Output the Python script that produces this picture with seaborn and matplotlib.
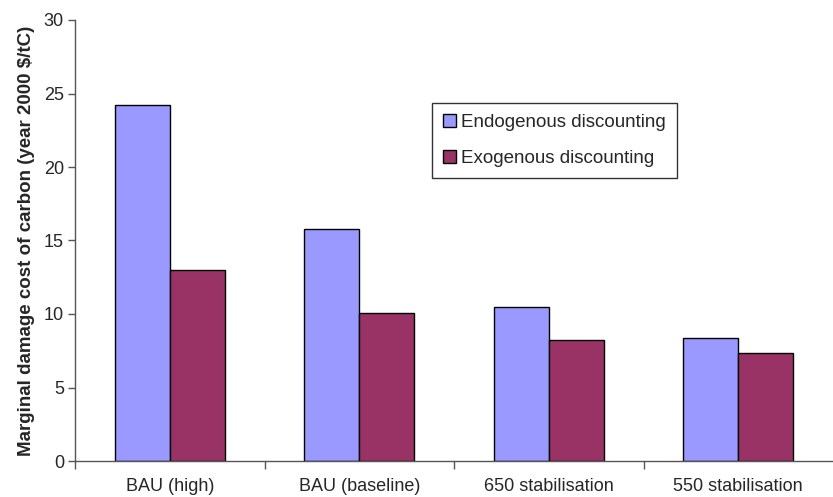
import matplotlib
matplotlib.use("Agg")
import matplotlib.pyplot as plt
import seaborn as sns
import pandas as pd
from matplotlib.ticker import FixedLocator

categories = ["BAU (high)", "BAU (baseline)", "650 stabilisation", "550 stabilisation"]
series = ["Endogenous discounting", "Exogenous discounting"]
endogenous = [24.25, 15.8, 10.45, 8.35]
exogenous = [13.0, 10.05, 8.2, 7.35]
colors = ["#9999FF", "#993366"]
yticks = [0, 5, 10, 15, 20, 25, 30]

rows = []
for c, v in zip(categories, endogenous):
    rows.append({"cat": c, "series": series[0], "value": v})
for c, v in zip(categories, exogenous):
    rows.append({"cat": c, "series": series[1], "value": v})
df = pd.DataFrame(rows)

sns.set_theme(style="white")
plt.rcParams["font.family"] = ["Liberation Sans", "DejaVu Sans"]

fig = plt.figure(figsize=(8.33, 4.97), dpi=100)
ax = fig.add_axes([75/833, 36/497, 758/833, 441/497])

sns.barplot(data=df, x="cat", y="value", hue="series", order=categories,
            hue_order=series, palette=colors, width=0.58, ax=ax,
            edgecolor="black", linewidth=1.0, saturation=1, errorbar=None)

ax.set_ylim(0, 30)
ax.set_xlim(-0.5, 3.5)
ax.set_yticks(yticks)
ax.set_yticklabels([str(t) for t in yticks], fontsize=13)
ax.set_ylabel("Marginal damage cost of carbon (year 2000 $/tC)", fontsize=13.5,
              fontweight="bold", labelpad=6)
ax.set_xlabel("")

ax.xaxis.set_major_locator(FixedLocator([-0.5, 0.5, 1.5, 2.5]))
ax.xaxis.set_minor_locator(FixedLocator([0, 1, 2, 3]))
ax.set_xticklabels([], minor=False)
ax.set_xticklabels(categories, minor=True, fontsize=13)
ax.tick_params(axis="x", which="major", direction="out", length=6, width=1,
               color="#555555", bottom=True)
ax.tick_params(axis="x", which="minor", length=0, pad=12, bottom=True)
ax.tick_params(axis="y", direction="out", length=5, width=1, color="#555555",
               left=True, pad=3)

for s in ["top", "right"]:
    ax.spines[s].set_visible(False)
ax.spines["left"].set_color("#555555")
ax.spines["bottom"].set_color("#555555")
ax.spines["left"].set_linewidth(1)
ax.spines["bottom"].set_linewidth(1)

leg = ax.legend(loc="upper left", bbox_to_anchor=(0.471, 0.812),
                borderaxespad=0, fontsize=13.5, frameon=True, fancybox=False,
                handlelength=0.7, handleheight=0.7, handletextpad=0.25,
                labelspacing=1.0, borderpad=0.6)
leg.get_frame().set_edgecolor("black")
leg.get_frame().set_linewidth(1)

fig.savefig("out.png", dpi=100)
